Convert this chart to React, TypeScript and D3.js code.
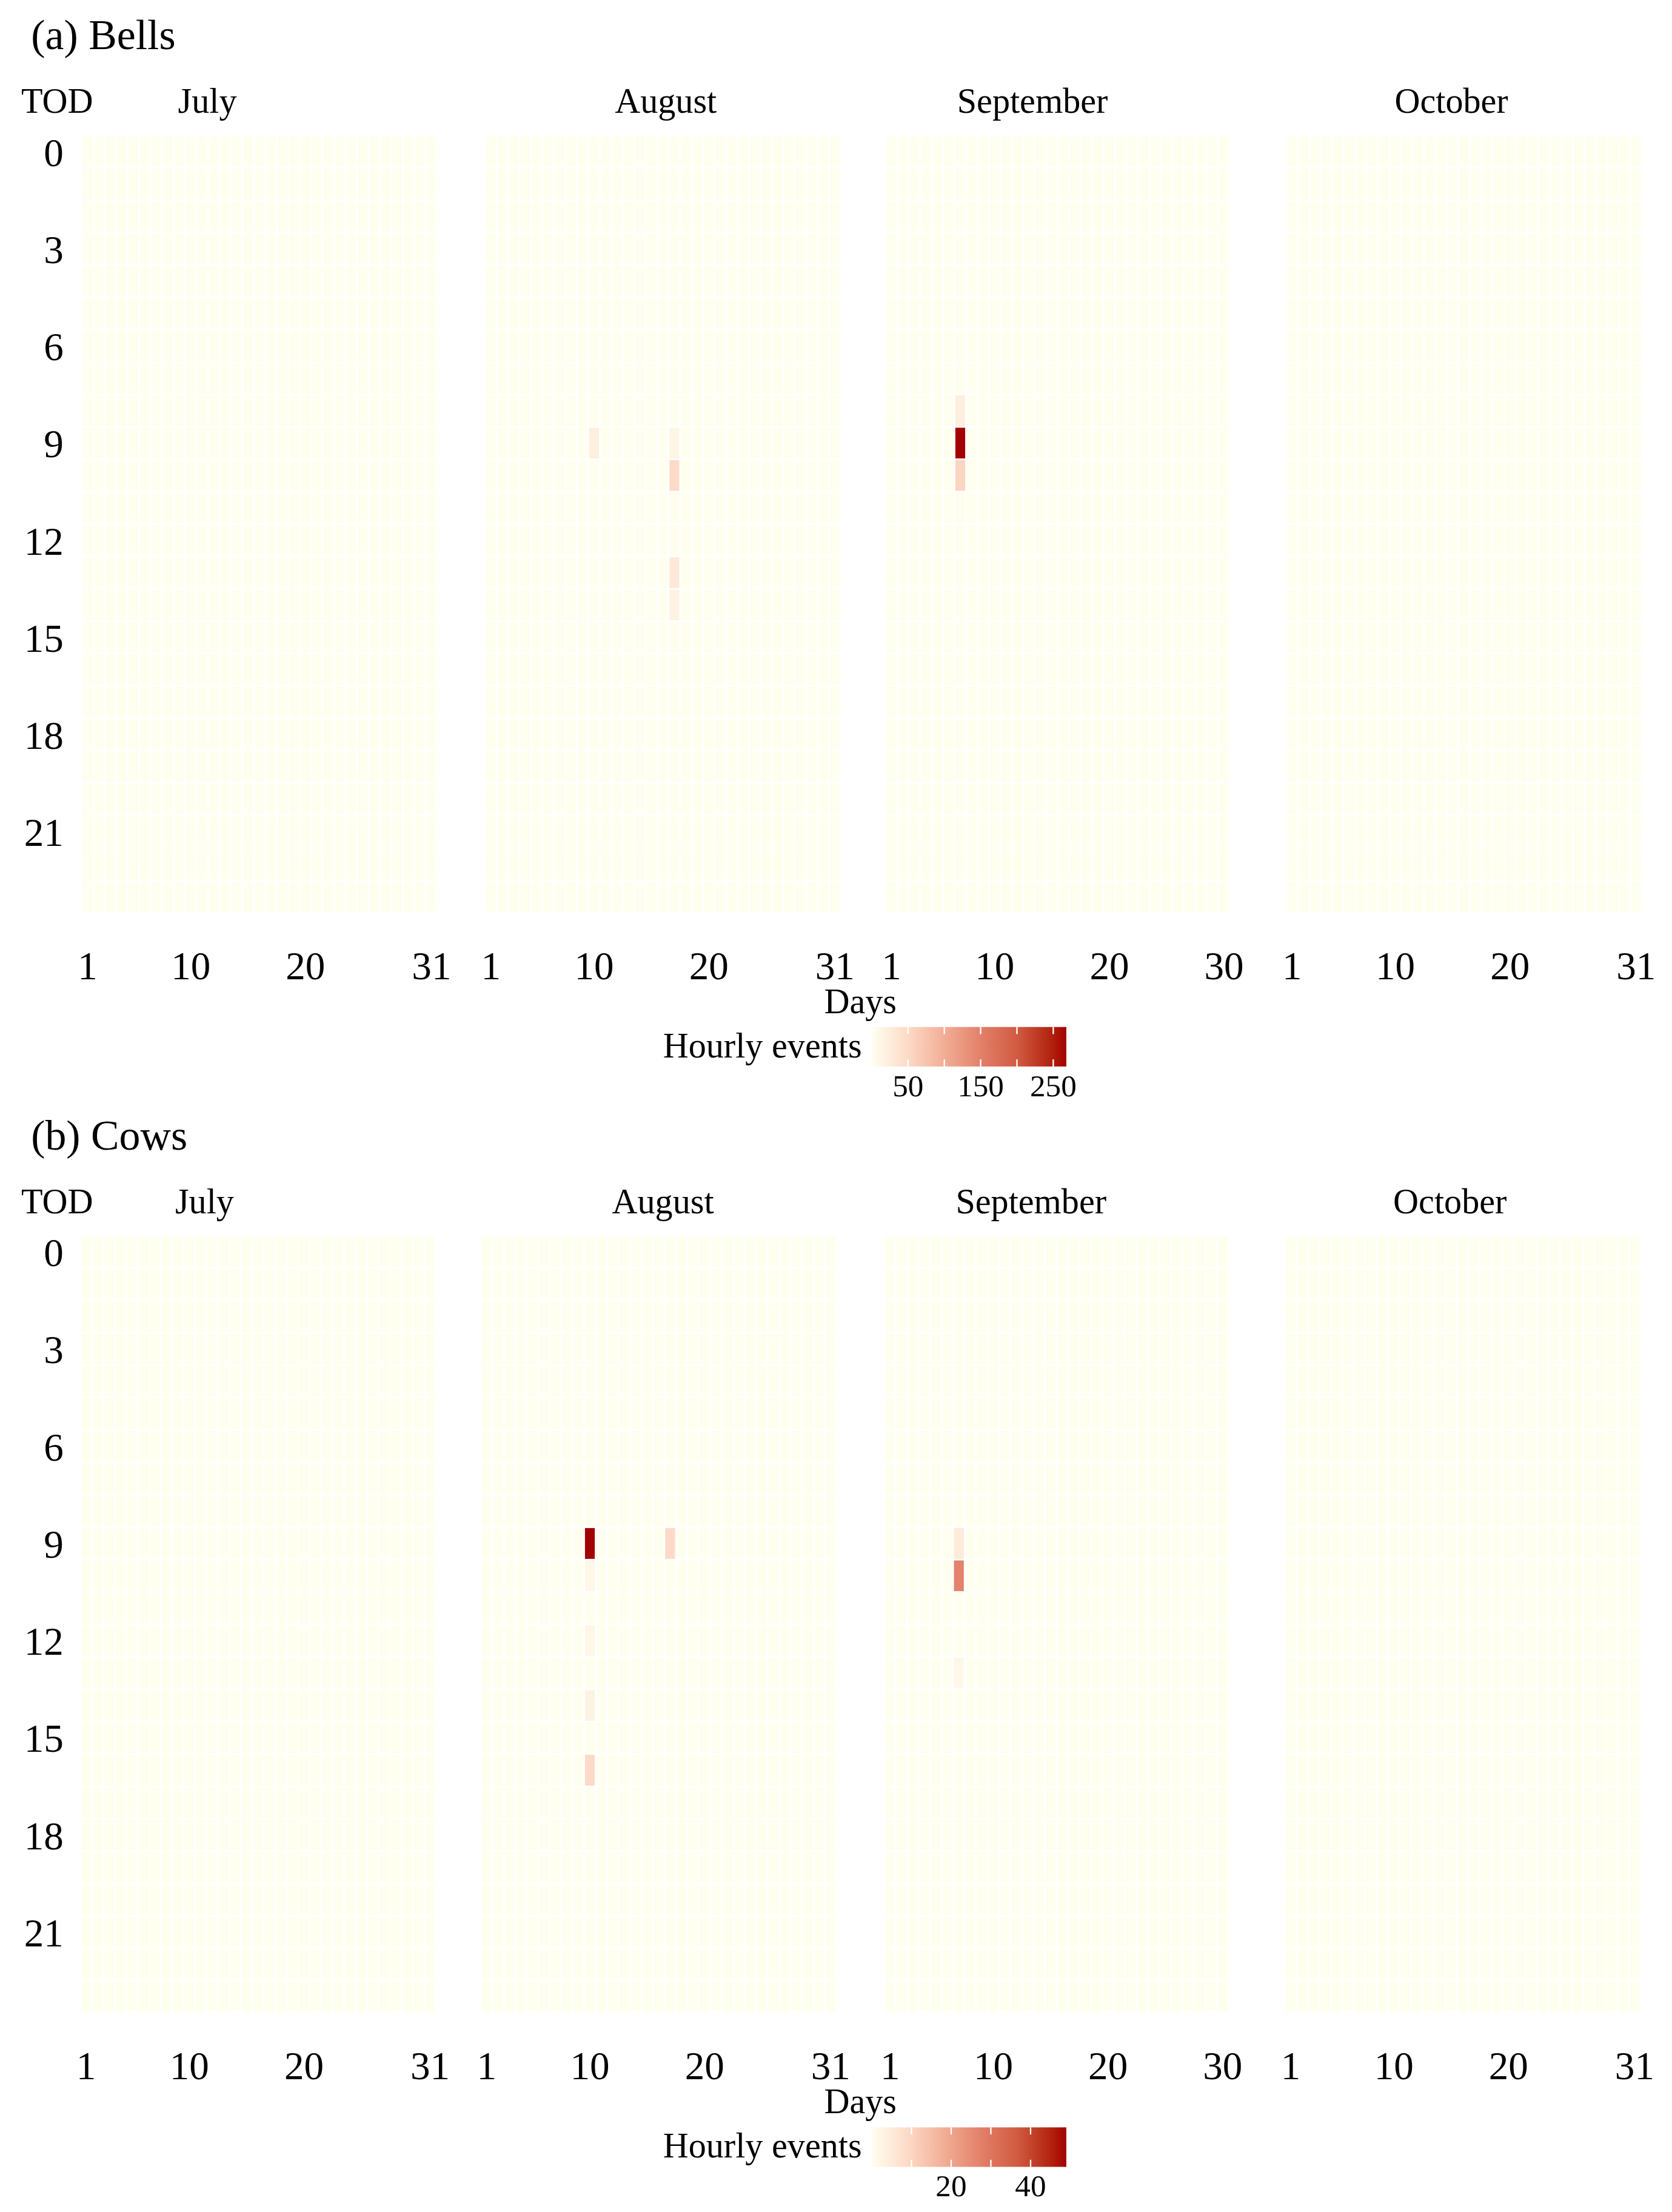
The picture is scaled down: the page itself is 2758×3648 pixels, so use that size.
import React from 'react';
import * as d3 from 'd3';

// Months shown in each panel
const months = ['July', 'August', 'September', 'October'];
const monthDays = [31, 31, 30, 31];
const dayTicks = [
  [1, 10, 20, 31],
  [1, 10, 20, 31],
  [1, 10, 20, 30],
  [1, 10, 20, 31],
];
const hours = d3.range(0, 24);
const hourTicks = [0, 3, 6, 9, 12, 15, 18, 21];

// Non-zero hourly counts: [month index, day, hour, events]; every other cell is 0
const bellsEvents: [number, number, number, number][] = [
  [1, 10, 9, 22],
  [1, 17, 9, 14],
  [1, 17, 10, 48],
  [1, 17, 11, 3],
  [1, 17, 12, 3],
  [1, 17, 13, 29],
  [1, 17, 14, 17],
  [1, 17, 15, 2],
  [2, 7, 8, 22],
  [2, 7, 9, 268],
  [2, 7, 10, 55],
  [2, 7, 11, 3],
];
const cowsEvents: [number, number, number, number][] = [
  [1, 10, 9, 49],
  [1, 10, 10, 2],
  [1, 10, 12, 2],
  [1, 10, 14, 3],
  [1, 10, 16, 9],
  [1, 17, 9, 9],
  [2, 7, 9, 5],
  [2, 7, 10, 27],
  [2, 7, 13, 2],
];

// Colour bar ranges and ticks
const bellsMax = 268;
const bellsLegendMarks = [50, 100, 150, 200, 250];
const bellsLegendLabels = [50, 150, 250];
const cowsMax = 49;
const cowsLegendMarks = [10, 20, 30, 40];
const cowsLegendLabels = [20, 40];

// Gradient stops (fraction of max) and colours
const gradStops = [0, 0.19, 0.37, 0.56, 0.75, 0.93, 1];
const gradColors = ['#FFFFF0', '#FDD9C6', '#F2AE96', '#E3806A', '#D05A40', '#B0200C', '#A30000'];

const FONT = '"Liberation Serif", "Times New Roman", serif';
const DAY_W = 8.13;
const ROW_H = 22.96;

interface PanelProps {
  id: string;
  title: string;
  events: [number, number, number, number][];
  max: number;
  marks: number[];
  labels: number[];
  top: number;
  xStarts: number[];
  monthCenters: number[];
}

const Panel: React.FC<PanelProps> = ({ id, title, events, max, marks, labels, top, xStarts, monthCenters }) => {
  const color = d3
    .scaleLinear<string>()
    .domain(gradStops.map(s => s * max))
    .range(gradColors)
    .interpolate(d3.interpolateRgb)
    .clamp(true);

  const lookup = new Map<string, number>();
  events.forEach(([m, d, h, v]) => lookup.set(`${m}-${d}-${h}`, v));

  const bottom = top + 24 * ROW_H;
  const y = d3.scaleBand<number>().domain(hours).range([top, bottom]);

  // legend scale
  const barLeft = 618;
  const barRight = 756;
  const barTop = top + 632;
  const barH = 28;
  const lx = d3.scaleLinear().domain([0, max]).range([barLeft, barRight]);

  return (
    <g>
      <text x={22} y={top - 61} fontSize={30} fontFamily={FONT}>{title}</text>
      <text x={15} y={top - 16} fontSize={25} fontFamily={FONT}>TOD</text>

      {hourTicks.map(h => (
        <text key={h} x={45} y={(y(h) as number) + y.bandwidth() / 2} dy="0.36em"
          textAnchor="end" fontSize={28} fontFamily={FONT}>{h}</text>
      ))}

      {months.map((mName, mi) => {
        const n = monthDays[mi];
        const x = d3.scaleBand<number>().domain(d3.range(1, n + 1)).range([xStarts[mi], xStarts[mi] + n * DAY_W]);
        const cells: JSX.Element[] = [];
        x.domain().forEach(d => {
          hours.forEach(h => {
            const v = lookup.get(`${mi}-${d}-${h}`) ?? 0;
            cells.push(
              <rect key={`${d}-${h}`} x={x(d)} y={y(h)} width={x.bandwidth()} height={y.bandwidth()}
                fill={color(v)} stroke="#ffffff" strokeWidth={1.1} />
            );
          });
        });
        return (
          <g key={mName}>
            <text x={monthCenters[mi]} y={top - 16} textAnchor="middle" fontSize={25} fontFamily={FONT}>{mName}</text>
            {cells}
            {dayTicks[mi].map(d => (
              <text key={d} x={(x(d) as number) + x.bandwidth() / 2} y={bottom + 47}
                textAnchor="middle" fontSize={28} fontFamily={FONT}>{d}</text>
            ))}
          </g>
        );
      })}

      <text x={610} y={bottom + 71} textAnchor="middle" fontSize={25} fontFamily={FONT}>Days</text>

      {/* colour bar legend */}
      <defs>
        <linearGradient id={`grad-${id}`} x1="0" x2="1" y1="0" y2="0">
          {gradStops.map((s, i) => (
            <stop key={i} offset={`${s * 100}%`} stopColor={gradColors[i]} />
          ))}
        </linearGradient>
      </defs>
      <text x={611} y={barTop + barH / 2} dy="0.3em" textAnchor="end" fontSize={25} fontFamily={FONT}>Hourly events</text>
      <rect x={barLeft} y={barTop} width={barRight - barLeft} height={barH} fill={`url(#grad-${id})`} />
      {marks.map(m => (
        <g key={m}>
          <line x1={lx(m)} x2={lx(m)} y1={barTop} y2={barTop + barH * 0.18} stroke="#ffffff" strokeWidth={1} />
          <line x1={lx(m)} x2={lx(m)} y1={barTop + barH * 0.82} y2={barTop + barH} stroke="#ffffff" strokeWidth={1} />
        </g>
      ))}
      {labels.map(l => (
        <text key={l} x={lx(l)} y={barTop + barH + 21} textAnchor="middle" fontSize={22} fontFamily={FONT}>{l}</text>
      ))}
    </g>
  );
};

const App: React.FC = () => {
  return (
    <svg
      width={2758}
      height={3648}
      viewBox="0 0 1185.4 1568"
      style={{ position: 'absolute', left: 0, top: 0, background: '#ffffff' }}
    >
      <rect x={0} y={0} width={1185.4} height={1568} fill="#ffffff" />
      <Panel id="bells" title="(a) Bells" events={bellsEvents} max={bellsMax}
        marks={bellsLegendMarks} labels={bellsLegendLabels} top={96}
        xStarts={[58, 344, 628, 912]} monthCenters={[147, 472, 732, 1029]} />
      <Panel id="cows" title="(b) Cows" events={cowsEvents} max={cowsMax}
        marks={cowsLegendMarks} labels={cowsLegendLabels} top={876}
        xStarts={[57, 341, 627, 911]} monthCenters={[145, 470, 731, 1028]} />
    </svg>
  );
};

export default App;
